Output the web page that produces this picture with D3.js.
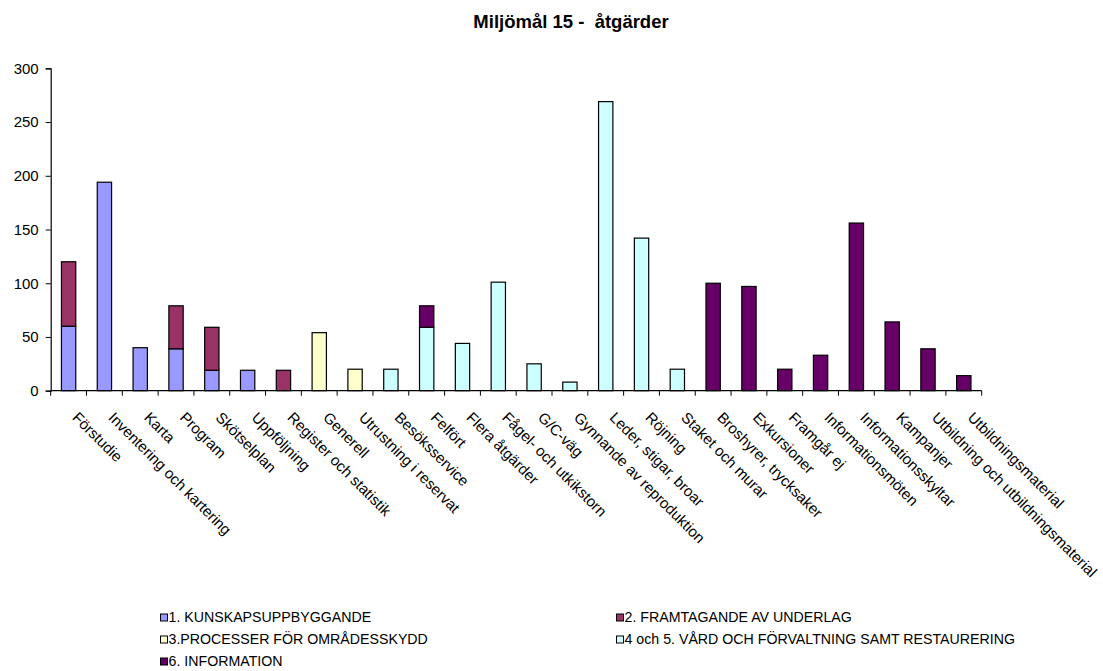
<!DOCTYPE html>
<html>
<head>
<meta charset="utf-8">
<script src="https://cdn.jsdelivr.net/npm/d3@7"></script>
<style>
  html, body { margin: 0; padding: 0; background: #fff; }
  svg { display: block; font-family: Arial, "Liberation Sans", sans-serif; }
  text { white-space: pre; }
</style>
</head>
<body>
<svg id="chart" width="1103" height="671"></svg>
<script>
// Åtgärder per kategori, uppdelade på insatsområde
const categories = [
  "Förstudie", "Inventering och kartering", "Karta", "Program", "Skötselplan",
  "Uppföljning", "Register och statistik", "Generell", "Utrustning i reservat",
  "Besöksservice", "Felfört", "Flera åtgärder", "Fågel- och utkikstorn", "G/C-väg",
  "Gynnande av reproduktion", "Leder, stigar, broar", "Röjning", "Staket och murar",
  "Broshyrer, trycksaker", "Exkursioner", "Framgår ej", "Informationsmöten",
  "Informationsskyltar", "Kampanjer", "Utbildning och utbildningsmaterial", "Utbildningsmaterial"
];

const seriesNames = [
  "1. KUNSKAPSUPPBYGGANDE",
  "2. FRAMTAGANDE AV UNDERLAG",
  "3.PROCESSER FÖR OMRÅDESSKYDD",
  "4 och 5. VÅRD OCH FÖRVALTNING SAMT RESTAURERING",
  "6. INFORMATION"
];

const kunskap    = [60, 194, 40, 39, 19, 19, 0, 0, 0, 0, 0, 0, 0, 0, 0, 0, 0, 0, 0, 0, 0, 0, 0, 0, 0, 0];
const underlag   = [60, 0, 0, 40, 40, 0, 19, 0, 0, 0, 0, 0, 0, 0, 0, 0, 0, 0, 0, 0, 0, 0, 0, 0, 0, 0];
const processer  = [0, 0, 0, 0, 0, 0, 0, 54, 20, 0, 0, 0, 0, 0, 0, 0, 0, 0, 0, 0, 0, 0, 0, 0, 0, 0];
const vard       = [0, 0, 0, 0, 0, 0, 0, 0, 0, 20, 59, 44, 101, 25, 8, 269, 142, 20, 0, 0, 0, 0, 0, 0, 0, 0];
const information= [0, 0, 0, 0, 0, 0, 0, 0, 0, 0, 20, 0, 0, 0, 0, 0, 0, 0, 100, 97, 20, 33, 156, 64, 39, 14];

const yTicks = [0, 50, 100, 150, 200, 250, 300];
const colors = ["#9999FF", "#993366", "#FFFFCC", "#CCFFFF", "#660066"];

const seriesValues = [kunskap, underlag, processer, vard, information];
const keys = seriesNames;
const rows = categories.map((c, i) => {
  const r = { category: c };
  keys.forEach((k, j) => { r[k] = seriesValues[j][i]; });
  return r;
});

const svg = d3.select("#chart");
const plotLeft = 50.7, plotRight = 981.7, plotTop = 68.3, plotBottom = 390.7;

const x = d3.scaleBand().domain(categories).range([plotLeft, plotRight]).padding(0);
const y = d3.scaleLinear().domain([0, 300]).range([plotBottom, plotTop]);
const color = d3.scaleOrdinal().domain(keys).range(colors);

// Title
svg.append("text")
  .attr("x", 571).attr("y", 28)
  .attr("text-anchor", "middle")
  .attr("font-weight", "bold")
  .attr("font-size", 18.5)
  .text("Miljömål 15 -  åtgärder");

// Stacked bars
const stacked = d3.stack().keys(keys)(rows);
const barW = x.bandwidth() * 0.4;
svg.append("g").selectAll("g")
  .data(stacked)
  .join("g")
  .attr("fill", d => color(d.key))
  .selectAll("rect")
  .data(d => d.filter(p => p[1] - p[0] > 0))
  .join("rect")
  .attr("x", d => x(d.data.category) + (x.bandwidth() - barW) / 2)
  .attr("y", d => y(d[1]))
  .attr("width", barW)
  .attr("height", d => y(d[0]) - y(d[1]))
  .attr("stroke", "#000")
  .attr("stroke-width", 1.2);

// Y axis
const yAxis = svg.append("g")
  .attr("transform", `translate(${plotLeft},0)`)
  .call(d3.axisLeft(y).tickValues(yTicks).tickSize(5).tickPadding(7).tickFormat(d3.format("d")));
yAxis.select(".domain").attr("stroke", "#000").attr("stroke-width", 1.2);
yAxis.selectAll(".tick line").attr("stroke", "#000");
yAxis.selectAll(".tick text")
  .attr("font-size", 15)
  .attr("font-family", "Arial, 'Liberation Sans', sans-serif")
  .attr("fill", "#000");

// X axis with ticks at category boundaries
const xg = svg.append("g");
xg.append("line")
  .attr("x1", plotLeft).attr("x2", plotRight)
  .attr("y1", plotBottom).attr("y2", plotBottom)
  .attr("stroke", "#000").attr("stroke-width", 1.2);
const boundaries = categories.map(c => x(c)).concat([plotRight]);
xg.selectAll("line.tick")
  .data(boundaries)
  .join("line")
  .attr("class", "tick")
  .attr("x1", d => d).attr("x2", d => d)
  .attr("y1", plotBottom).attr("y2", plotBottom + 5)
  .attr("stroke", "#000");

// Rotated category labels
xg.selectAll("text")
  .data(categories)
  .join("text")
  .attr("transform", d => `translate(${x(d) + x.bandwidth() / 2 + 3},418.5) rotate(45)`)
  .attr("text-anchor", "start")
  .attr("font-size", 15.1)
  .text(d => d);

// Legend
const legendItems = [
  { name: seriesNames[0], col: 0, row: 0 },
  { name: seriesNames[1], col: 1, row: 0 },
  { name: seriesNames[2], col: 0, row: 1 },
  { name: seriesNames[3], col: 1, row: 1 },
  { name: seriesNames[4], col: 0, row: 2 }
];
const legend = svg.append("g");
const colX = [160.5, 616.5];
const rowY = [617.5, 639.5, 661.5];
const li = legend.selectAll("g")
  .data(legendItems)
  .join("g")
  .attr("transform", d => `translate(${colX[d.col]},${rowY[d.row]})`);
li.append("rect")
  .attr("x", 0).attr("y", -3.5)
  .attr("width", 7).attr("height", 7)
  .attr("fill", d => color(d.name))
  .attr("stroke", "#000")
  .attr("stroke-width", 1);
li.append("text")
  .attr("x", 8).attr("y", 0)
  .attr("dy", "0.35em")
  .attr("font-size", 14.2)
  .text(d => d.name);
</script>
</body>
</html>
